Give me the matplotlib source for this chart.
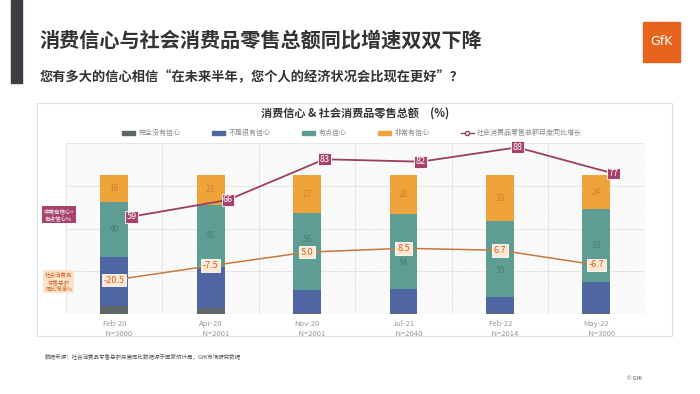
import numpy as np
import matplotlib.pyplot as plt
from matplotlib.patches import Rectangle
from matplotlib.lines import Line2D

plt.rcParams['font.family'] = ['Noto Sans CJK SC', 'DejaVu Sans']
plt.rcParams['hatch.linewidth'] = 0.3

months = ['Feb-20', 'Apr-20', 'Nov-20', 'Jul-21', 'Feb-22', 'May-22']
samples = ['N=3000', 'N=2001', 'N=2001', 'N=2040', 'N=2014', 'N=3000']
none_conf = [6, 4, 1, 1, 1, 1]
not_very = [35, 30, 16, 17, 11, 22]
somewhat = [40, 45, 56, 54, 55, 53]
very = [19, 21, 27, 28, 33, 24]
confident_pct = [59, 66, 83, 82, 88, 77]
retail_growth = [-20.5, -7.5, 5.0, 8.5, 6.7, -6.7]

names = ['完全没有信心', '不是很有信心', '有点信心', '非常有信心']
colors = ['#5d6766', '#4f66a3', '#5e9d94', '#f0a23b']
label_colors = [None, None, '#4a7d75', '#c78530']
line_name = '社会消费品零售总额月度同比增长'
# teal labels move off the growth-line boxes
teal_dy = [0, 0, 9, -8, -8, 0]

fig = plt.figure(figsize=(7, 3.94), dpi=100)

# header
fig.patches.append(Rectangle((0.016, 0.79), 0.015, 0.21, transform=fig.transFigure,
                             color='#3b3e42', zorder=-1))
fig.text(0.057, 0.898, '消费信心与社会消费品零售总额同比增速双双下降', fontsize=14.5,
         fontweight='bold', color='#333333', va='center')
fig.text(0.057, 0.805, '您有多大的信心相信“在未来半年，您个人的经济状况会比现在更好”？',
         fontsize=9.5, fontweight='bold', color='#333333', va='center')
fig.patches.append(Rectangle((0.919, 0.843), 0.053, 0.102, transform=fig.transFigure,
                             color='#e8641e', zorder=-1))
fig.text(0.9455, 0.894, 'GfK', fontsize=9, color='white', ha='center', va='center',
         family='DejaVu Sans')

# chart panel
fig.patches.append(Rectangle((0.053, 0.147), 0.907, 0.591, transform=fig.transFigure,
                             fc='white', ec='#dddddd', lw=0.8, zorder=-1))
fig.text(0.507, 0.713, '消费信心 & 社会消费品零售总额　(%)', fontsize=8, fontweight='bold',
         color='#333333', ha='center', va='center')

ax = fig.add_axes([0.094, 0.203, 0.827, 0.434])
ax.set_facecolor('#fbfbfb')
ax.add_patch(Rectangle((0, 0), 1, 1, transform=ax.transAxes, fill=False, hatch='//////',
                       ec='#f1f1f1', lw=0, zorder=0))
x = np.arange(len(months))
bottom = np.zeros(len(months))
handles = []
for vals, c, n, lc in zip([none_conf, not_very, somewhat, very], colors, names, label_colors):
    ax.bar(x, vals, 0.29, bottom=bottom, color=c, zorder=2)
    if lc:
        dys = teal_dy if c == colors[2] else [0] * len(vals)
        for xi, b, v, dy in zip(x, bottom, vals, dys):
            ax.annotate(str(v), (xi, b + v / 2), xytext=(0, dy), textcoords='offset points',
                        ha='center', va='center', color=lc, fontsize=6, zorder=3)
    bottom += np.array(vals)
    handles.append(Rectangle((0, 0), 1, 1, color=c))

ax.set_xlim(-0.5, len(months) - 0.5)
ax.set_ylim(0, 123.4)
ax.set_yticks(np.linspace(0, 123.4, 5))
ax.set_xticks(np.arange(-0.5, len(months), 1), minor=True)
ax.set_xticks(x)
ax.set_xticklabels([m + '\n      ' + s for m, s in zip(months, samples)],
                   fontsize=5.5, color='#999999', linespacing=1.4)
ax.tick_params(length=0, labelleft=False, pad=4)
ax.tick_params(which='minor', length=0)
ax.grid(axis='y', color='#e2e2e2', lw=0.6, zorder=1)
ax.grid(axis='x', which='minor', color='#e2e2e2', lw=0.6, zorder=1)
ax.set_axisbelow(True)
for s in ax.spines.values():
    s.set_visible(False)

# confidence line
ax2 = ax.twinx()
ax2.set_ylim(18.3, 89.8)
ax2.axis('off')
ax2.plot(x + 0.18, confident_pct, color='#9c3d62', lw=1.3, zorder=3)
for xi, v in zip(x, confident_pct):
    ax2.text(xi + 0.18, v, str(v), fontsize=6.5, color='white', ha='center', va='center',
             zorder=4, bbox=dict(boxstyle='square,pad=0.15', fc='#a6426c', ec='white', lw=0.6))

# retail growth line
ax3 = ax.twinx()
ax3.set_ylim(-51.6, 104.8)
ax3.axis('off')
ax3.plot(x, retail_growth, color='#c8783a', lw=1.1, zorder=3)
for xi, v in zip(x, retail_growth):
    ax3.text(xi, v, f'{v:.1f}', fontsize=6.5, color='#d0652a', ha='center', va='center',
             zorder=4, bbox=dict(boxstyle='square,pad=0.2', fc='#fde8d4', ec='white', lw=0.6))

handles.append(Line2D([], [], color='#9c3d62', marker='o', mfc='white', ms=3, lw=1))
fig.legend(handles, names + [line_name], loc='center', bbox_to_anchor=(0.503, 0.662),
           ncol=5, frameon=False, fontsize=5, columnspacing=4.5, handlelength=1.9,
           handleheight=0.5, handletextpad=0.5, labelcolor='#888888')

# side notes
fig.text(0.084, 0.455, '非常有信心+\n有点信心%', fontsize=4, color='white', ha='center',
         va='center', linespacing=1.3,
         bbox=dict(boxstyle='square,pad=0.35', fc='#a6426c', ec='none'))
fig.text(0.084, 0.285, '社会消费品\n零售总额\n同比增速%', fontsize=4, color='#d46a2a',
         ha='center', va='center', linespacing=1.3,
         bbox=dict(boxstyle='square,pad=0.35', fc='#fde3cc', ec='none'))

# footer
fig.text(0.064, 0.094, '数据来源：社会消费品零售总额月度同比数据源于国家统计局，GfK市场研究数据',
         fontsize=4, color='#555555', va='center')
fig.text(0.896, 0.04, '© GfK', fontsize=4, color='#555555', va='center')

fig.savefig('out.png', dpi=100)
